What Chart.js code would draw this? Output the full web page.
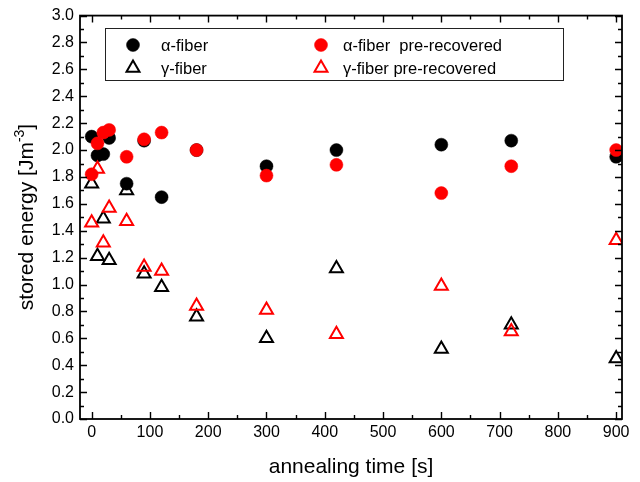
<!DOCTYPE html>
<html>
<head>
<meta charset="utf-8">
<style>
  body { margin: 0; background: #fff; }
</style>
</head>
<body>
<canvas id="energyChart" width="640" height="482"></canvas>
<script src="https://cdn.jsdelivr.net/npm/chart.js"></script>
<script>
// annealing times [s]
const times = [0, 10, 20, 30, 60, 90, 120, 180, 300, 420, 600, 720, 900];

// stored energy [J m^-3]
const alphaFiber      = [2.10, 1.96, 1.97, 2.09, 1.75, 2.07, 1.65, 2.00, 1.88, 2.00, 2.04, 2.07, 1.95];
const gammaFiber      = [1.75, 1.21, 1.49, 1.18, 1.70, 1.08, 0.98, 0.76, 0.60, 1.12, 0.52, 0.70, 0.45];
const alphaPreRecov   = [1.82, 2.05, 2.13, 2.15, 1.95, 2.08, 2.13, 2.00, 1.81, 1.89, 1.68, 1.88, 2.00];
const gammaPreRecov   = [1.46, 1.86, 1.31, 1.57, 1.47, 1.13, 1.10, 0.84, 0.81, 0.63, 0.99, 0.65, 1.33];

const xTicks = [0, 100, 200, 300, 400, 500, 600, 700, 800, 900];
const yTicks = [0.0, 0.2, 0.4, 0.6, 0.8, 1.0, 1.2, 1.4, 1.6, 1.8, 2.0, 2.2, 2.4, 2.6, 2.8, 3.0];

const FONT = '"Liberation Sans", Arial, sans-serif';

function toPoints(vals) {
  return times.map((t, i) => ({ x: t, y: vals[i] }));
}

function midpoints(arr) {
  return arr.slice(0, -1).map((v, i) => (v + arr[i + 1]) / 2);
}

const series = [
  { label: 'α-fiber', values: alphaFiber, color: '#000000', style: 'circle', filled: true, order: 4 },
  { label: 'γ-fiber', values: gammaFiber, color: '#000000', style: 'triangle', filled: false, order: 3 },
  { label: 'α-fiber  pre-recovered', values: alphaPreRecov, color: '#ff0000', style: 'circle', filled: true, order: 2 },
  { label: 'γ-fiber pre-recovered', values: gammaPreRecov, color: '#ff0000', style: 'triangle', filled: false, order: 1 }
];

const markerRadius = s => (s.filled ? 6.5 : 7.5);
const markerBorder = s => (s.filled ? 0.5 : 2);

const datasets = series.map(s => ({
  label: s.label,
  data: toPoints(s.values),
  showLine: false,
  pointStyle: s.style,
  pointRadius: markerRadius(s),
  pointHoverRadius: markerRadius(s),
  backgroundColor: s.filled ? s.color : 'rgba(0,0,0,0)',
  borderColor: s.color,
  borderWidth: markerBorder(s),
  order: s.order
}));

// box frame, inward ticks, legend and the y title
const decorations = {
  id: 'decorations',
  afterDatasetsDraw(chart) {
    const { ctx, chartArea: a, scales: { x, y } } = chart;
    ctx.save();

    ctx.strokeStyle = '#000';
    ctx.lineWidth = 1.8;
    ctx.strokeRect(a.left, a.top, a.right - a.left, a.bottom - a.top);

    ctx.lineWidth = 1.4;
    ctx.beginPath();
    const xt = (v, len) => {
      const px = Math.round(x.getPixelForValue(v)) + 0.5;
      ctx.moveTo(px, a.bottom); ctx.lineTo(px, a.bottom - len);
      ctx.moveTo(px, a.top); ctx.lineTo(px, a.top + len);
    };
    const yt = (v, len) => {
      const py = Math.round(y.getPixelForValue(v)) + 0.5;
      ctx.moveTo(a.left, py); ctx.lineTo(a.left + len, py);
      ctx.moveTo(a.right, py); ctx.lineTo(a.right - len, py);
    };
    xTicks.forEach(v => xt(v, 7));
    midpoints(xTicks).forEach(v => xt(v, 4));
    yTicks.forEach(v => yt(v, 7));
    midpoints(yTicks).forEach(v => yt(v, 4));
    ctx.stroke();

    // legend
    ctx.fillStyle = '#fff';
    ctx.fillRect(105, 28, 458, 52);
    ctx.strokeStyle = '#222';
    ctx.lineWidth = 1;
    ctx.strokeRect(105.5, 28.5, 458, 52);

    const slots = [[133, 45], [133, 68], [321, 45], [321, 68]];
    const textX = [161, 161, 343, 343];
    ctx.font = '16.5px ' + FONT;
    ctx.textBaseline = 'middle';
    ctx.textAlign = 'left';
    series.forEach((s, i) => {
      const [mx, my] = slots[i];
      ctx.fillStyle = s.filled ? s.color : 'rgba(0,0,0,0)';
      ctx.strokeStyle = s.color;
      ctx.lineWidth = markerBorder(s);
      Chart.helpers.drawPoint(ctx, {
        pointStyle: s.style,
        radius: markerRadius(s),
        rotation: 0,
        borderWidth: markerBorder(s)
      }, mx, my);
      ctx.fillStyle = '#000';
      ctx.fillText(s.label, textX[i], my + 1);
    });

    // y title with superscript
    ctx.save();
    ctx.translate(33, 217);
    ctx.rotate(-Math.PI / 2);
    ctx.textBaseline = 'alphabetic';
    const big = '21px ' + FONT, small = '14px ' + FONT;
    const p1 = 'stored energy [Jm', p2 = '-3', p3 = ']';
    ctx.font = big; const w1 = ctx.measureText(p1).width, w3 = ctx.measureText(p3).width;
    ctx.font = small; const w2 = ctx.measureText(p2).width;
    let sx = -(w1 + w2 + w3) / 2;
    ctx.fillStyle = '#000';
    ctx.font = big; ctx.fillText(p1, sx, 0); sx += w1;
    ctx.font = small; ctx.fillText(p2, sx, -9); sx += w2;
    ctx.font = big; ctx.fillText(p3, sx, 0);
    ctx.restore();

    ctx.restore();
  }
};

new Chart(document.getElementById('energyChart'), {
  type: 'scatter',
  data: { datasets },
  plugins: [decorations],
  options: {
    responsive: false,
    animation: false,
    layout: { padding: { top: 14, right: 18, left: 0, bottom: 0 } },
    plugins: { legend: { display: false }, tooltip: { enabled: false } },
    scales: {
      x: {
        type: 'linear',
        min: -20,
        max: 910,
        afterBuildTicks: s => { s.ticks = xTicks.map(v => ({ value: v })); },
        afterFit: s => { s.height = 63; },
        grid: { display: false, drawTicks: false },
        border: { display: false },
        ticks: { color: '#000', padding: 4, maxRotation: 0, font: { family: FONT, size: 16 } },
        title: {
          display: true,
          text: 'annealing time [s]',
          color: '#000',
          font: { family: FONT, size: 21 },
          padding: { top: 0, bottom: 2 }
        }
      },
      y: {
        type: 'linear',
        min: 0,
        max: 3,
        afterBuildTicks: s => { s.ticks = yTicks.map(v => ({ value: v })); },
        afterFit: s => { s.width = 80; },
        grid: { display: false, drawTicks: false },
        border: { display: false },
        ticks: {
          color: '#000',
          padding: 6,
          font: { family: FONT, size: 16 },
          callback: v => v.toFixed(1)
        }
      }
    }
  }
});
</script>
</body>
</html>
